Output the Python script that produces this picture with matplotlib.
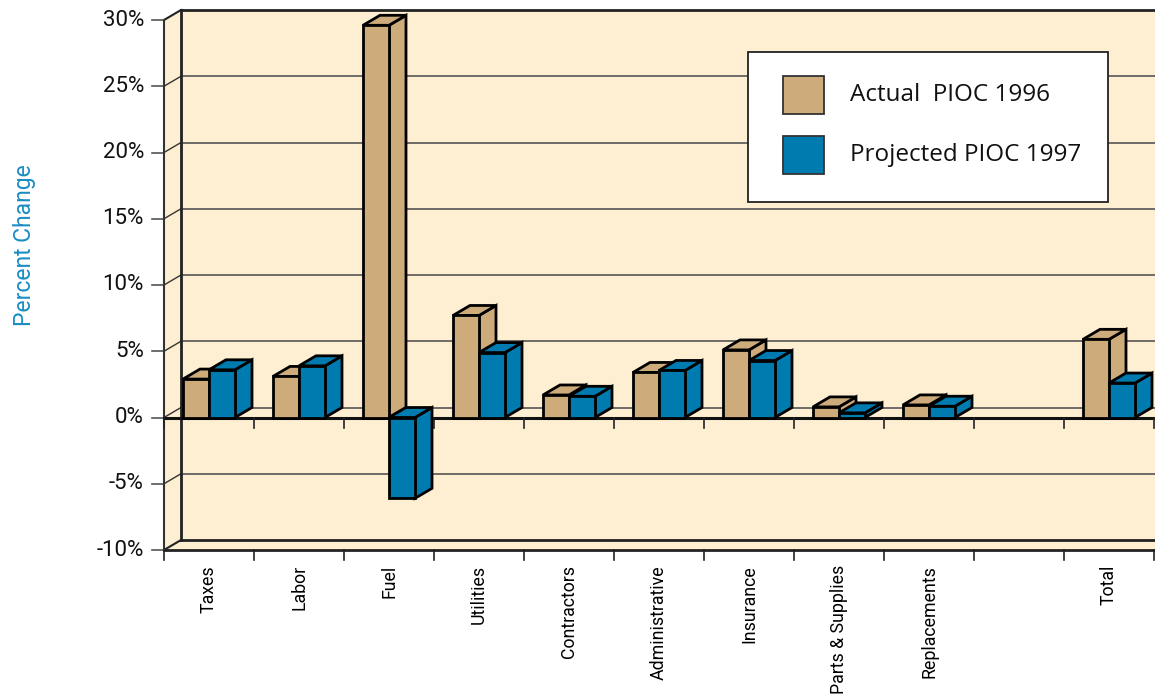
import matplotlib.pyplot as plt
from matplotlib.patches import Polygon, Rectangle

# Percent change by cost category
categories = ['Taxes', 'Labor', 'Fuel', 'Utilities', 'Contractors',
              'Administrative', 'Insurance', 'Parts & Supplies',
              'Replacements', '', 'Total']
actual_1996 = [2.9, 3.1, 29.6, 7.7, 1.7, 3.4, 5.1, 0.8, 0.95, None, 5.9]
projected_1997 = [3.6, 3.9, -6.1, 4.9, 1.6, 3.55, 4.3, 0.35, 0.85, None, 2.6]
y_ticks = [-10, -5, 0, 5, 10, 15, 20, 25, 30]
series_labels = ['Actual  PIOC 1996', 'Projected PIOC 1997']

tan = '#CDAB7B'
blue = '#007BB0'
cream = '#FEEFD3'

W, H = 1155, 698
fig = plt.figure(figsize=(W / 100, H / 100), dpi=100)
ax = fig.add_axes([0, 0, 1, 1])

# pixel geometry: one category = 90 px, 1 % = 13.25 px
px_x, px_y = 90.0, 13.25
x_left, y_bottom = 164, 550
ax.set_xlim(-x_left / px_x, (W - x_left) / px_x)
ax.set_ylim(-10 - (H - y_bottom) / px_y, -10 + y_bottom / px_y)
ax.axis('off')

dx, dy = 17 / px_x, 10 / px_y   # depth offset
bw = 26 / px_x                  # bar width
n = len(categories)
ymin, ymax = y_ticks[0], y_ticks[-1]
right = (W - x_left) / px_x + 1

# walls
ax.add_patch(Polygon([(dx, ymin + dy), (right, ymin + dy), (right, ymax + dy), (dx, ymax + dy)],
                     closed=True, facecolor=cream, edgecolor='none', zorder=0))
ax.add_patch(Polygon([(0, ymin), (dx, ymin + dy), (dx, ymax + dy), (0, ymax)],
                     closed=True, facecolor=cream, edgecolor='none', zorder=0))
ax.add_patch(Polygon([(0, ymin), (right, ymin), (right, ymin + dy), (dx, ymin + dy)],
                     closed=True, facecolor=cream, edgecolor='none', zorder=0))

# gridlines on back wall
for t in y_ticks[1:-1]:
    ax.plot([dx, right], [t + dy, t + dy], color='#555555', lw=1.2, zorder=1)
    ax.plot([0, dx], [t, t + dy], color='#333333', lw=1, zorder=1)
    ax.plot([-12 / px_x, 0], [t, t], color='#555555', lw=1.2, zorder=1)
ax.plot([dx, right], [ymax + dy, ymax + dy], color='#222222', lw=2, zorder=1)
ax.plot([0, dx], [ymax, ymax + dy], color='#222222', lw=1.5, zorder=1)
ax.plot([-12 / px_x, 0], [ymax, ymax], color='#555555', lw=1.2, zorder=1)
ax.plot([dx, dx], [ymin + dy, ymax + dy], color='#222222', lw=2, zorder=1)
ax.plot([0, 0], [ymin, ymax], color='#333333', lw=1.5, zorder=1)

# floor
ax.plot([dx, right], [ymin + dy, ymin + dy], color='#222222', lw=2, zorder=1)
ax.plot([0, right], [ymin, ymin], color='#222222', lw=2, zorder=1)
ax.plot([0, dx], [ymin, ymin + dy], color='#222222', lw=1.5, zorder=1)
ax.plot([-12 / px_x, 0], [ymin, ymin], color='#555555', lw=1.2, zorder=1)

# zero plane front edge and category ticks
ax.plot([0, right], [0, 0], color='#111111', lw=2.2, zorder=1)
for i in range(n + 1):
    ax.plot([i, i], [0, -10 / px_y], color='#222222', lw=1.2, zorder=1)
    ax.plot([i, i], [ymin, ymin - 10 / px_y], color='#222222', lw=1.2, zorder=1)

for t in y_ticks:
    ax.text(-20 / px_x, t, f'{t}%', ha='right', va='center', fontsize=16,
            family='Roboto', color='#111111')


def bar3d(x0, v, color, z):
    lo, hi = min(0, v), max(0, v)
    kw = dict(facecolor=color, edgecolor='black', lw=2, joinstyle='miter', zorder=z)
    ax.add_patch(Polygon([(x0 + bw, lo), (x0 + bw + dx, lo + dy), (x0 + bw + dx, hi + dy), (x0 + bw, hi)],
                         closed=True, **kw))
    ax.add_patch(Polygon([(x0, hi), (x0 + dx, hi + dy), (x0 + bw + dx, hi + dy), (x0 + bw, hi)],
                         closed=True, **kw))
    ax.add_patch(Rectangle((x0, lo), bw, hi - lo, **kw))


for i, (a, p) in enumerate(zip(actual_1996, projected_1997)):
    c = i + 0.5
    if a is not None:
        bar3d(c - bw, a, tan, 3 + 2 * i)
    if p is not None:
        bar3d(c, p, blue, 4 + 2 * i)
    if categories[i]:
        ax.text(c, ymin - 15 / px_y, categories[i], rotation=90, ha='center', va='top',
                fontsize=12.8, family='Roboto', color='black')

ax.text(-139 / px_x, 13, 'Percent Change', rotation=90, ha='center', va='center',
        fontsize=16.5, family='Roboto', color='#1A8DC4')

# legend box
lx0, lx1 = (748 - x_left) / px_x, (1108 - x_left) / px_x
ly0, ly1 = -10 + (y_bottom - 202) / px_y, -10 + (y_bottom - 52) / px_y
ax.add_patch(Rectangle((lx0, ly0), lx1 - lx0, ly1 - ly0, facecolor='white',
                       edgecolor='#222222', lw=1.3, zorder=50))
for k, (lab, col) in enumerate(zip(series_labels, [tan, blue])):
    cy = 95 + k * 60
    ax.add_patch(Rectangle(((783 - x_left) / px_x, -10 + (y_bottom - cy - 19) / px_y),
                           41 / px_x, 38 / px_y, facecolor=col, edgecolor='#333333',
                           lw=1.3, zorder=51))
    ax.text((850 - x_left) / px_x, -10 + (y_bottom - cy) / px_y, lab, ha='left', va='center',
            fontsize=17.5, family='Open Sans', color='#111111', zorder=52)

fig.savefig('out.png', dpi=100)
